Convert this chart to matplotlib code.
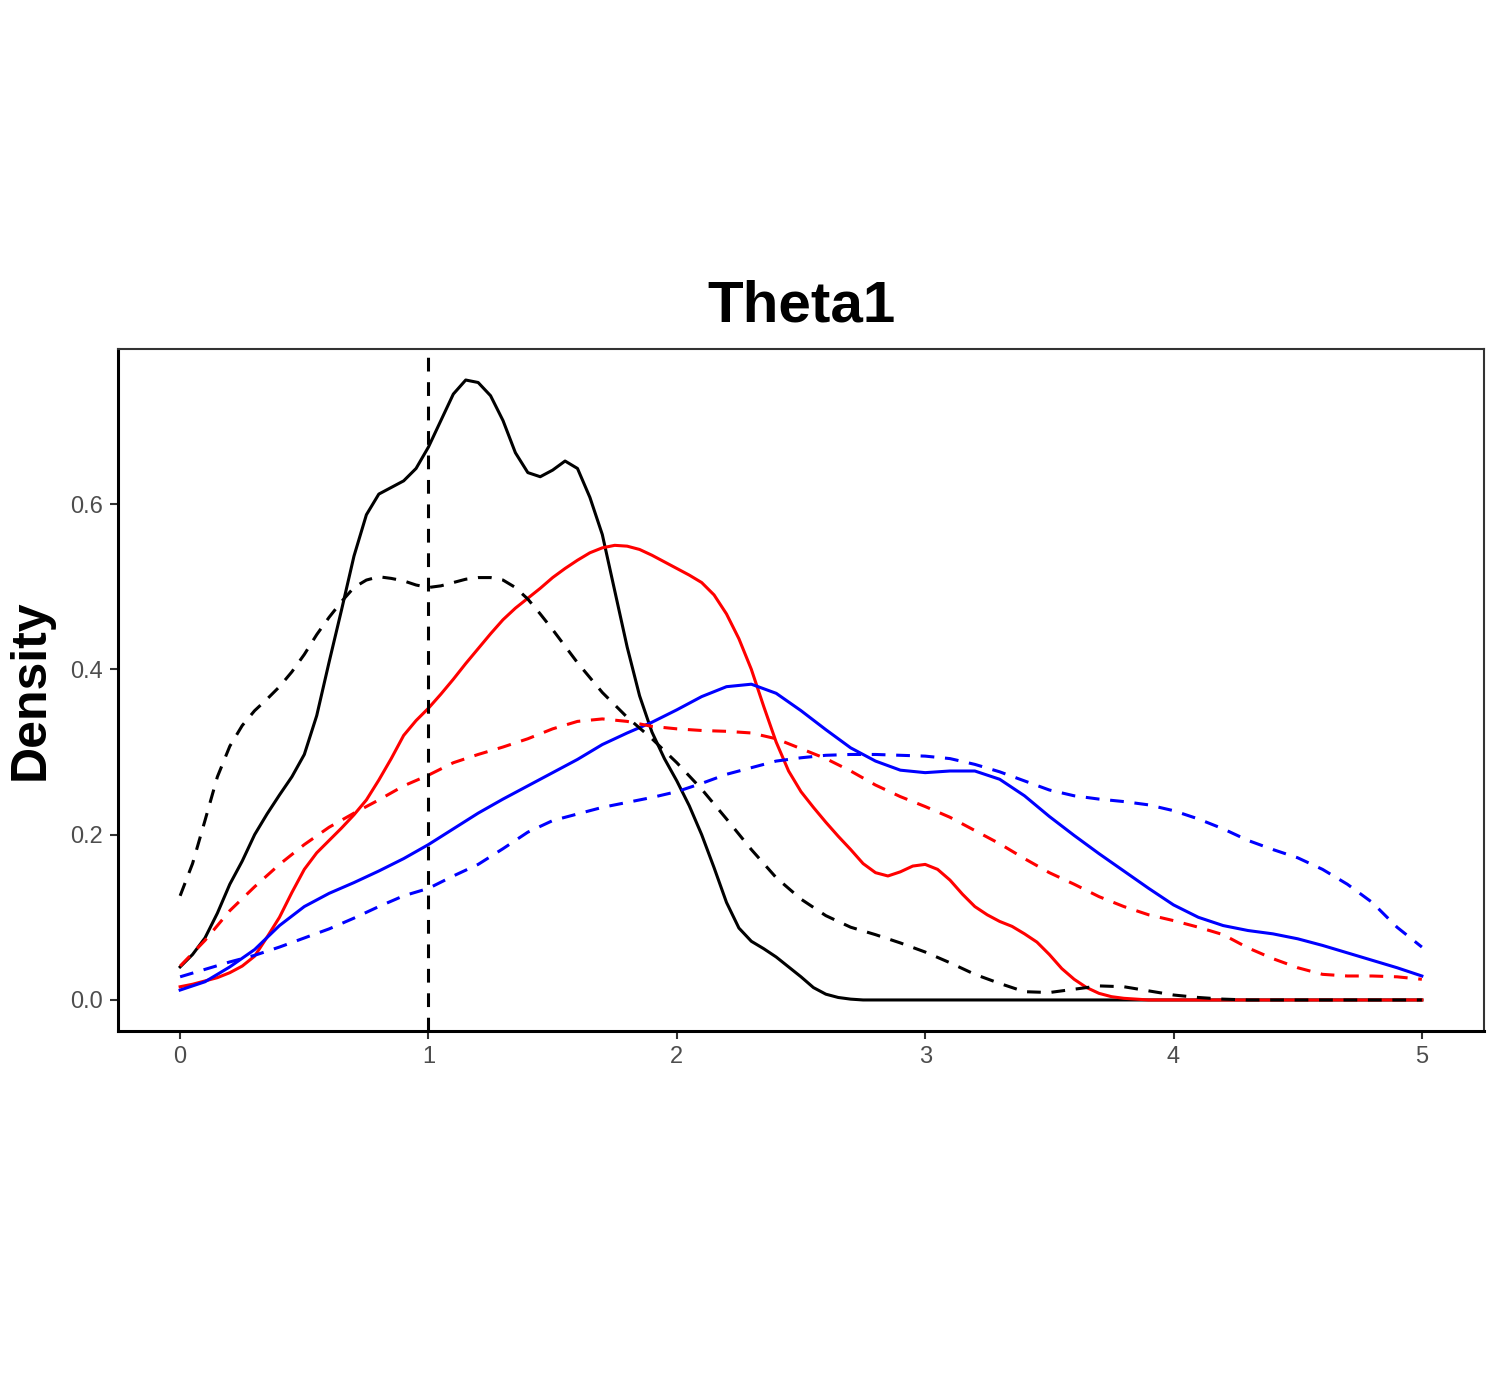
import matplotlib
matplotlib.use("Agg")
import matplotlib.pyplot as plt
import numpy as np

plt.rcParams['font.family'] = ['Liberation Sans', 'DejaVu Sans']

# x grids
x_coarse = np.round(np.arange(0, 5.0001, 0.1), 2)          # 0.1 step
x_fine = np.round(np.arange(0, 5.0001, 0.05), 2)           # 0.05 step
x_bd = np.concatenate([np.round(np.arange(0, 1.4999, 0.05), 2),
                       np.round(np.arange(1.5, 5.0001, 0.1), 2)])

black_solid = [0.040, 0.055, 0.075, 0.105, 0.140, 0.168, 0.200, 0.225, 0.248, 0.270,
               0.297, 0.344, 0.409, 0.472, 0.537, 0.587, 0.612, 0.620, 0.628, 0.643,
               0.669, 0.701, 0.733, 0.750, 0.747, 0.731, 0.701, 0.662, 0.638, 0.633,
               0.641, 0.652, 0.643, 0.608, 0.563, 0.495, 0.427, 0.368, 0.324, 0.292,
               0.265, 0.235, 0.200, 0.160, 0.118, 0.087, 0.071, 0.062, 0.052, 0.040,
               0.028, 0.015, 0.007, 0.003, 0.001] + [0.0] * 46
red_solid = [0.016, 0.019, 0.023, 0.027, 0.033, 0.041, 0.053, 0.076, 0.100, 0.130,
             0.158, 0.178, 0.193, 0.208, 0.224, 0.242, 0.266, 0.292, 0.320, 0.338,
             0.353, 0.370, 0.388, 0.407, 0.425, 0.443, 0.460, 0.474, 0.486, 0.498,
             0.511, 0.522, 0.532, 0.541, 0.547, 0.550, 0.549, 0.545, 0.538, 0.530,
             0.522, 0.514, 0.505, 0.490, 0.467, 0.437, 0.400, 0.355, 0.312, 0.277,
             0.252, 0.233, 0.215, 0.198, 0.182, 0.165, 0.154, 0.150, 0.155, 0.162,
             0.164, 0.158, 0.145, 0.128, 0.113, 0.103, 0.095, 0.089, 0.080, 0.070,
             0.055, 0.038, 0.025, 0.015, 0.008, 0.004, 0.002, 0.001] + [0.0] * 23
black_dashed = [0.126, 0.165, 0.217, 0.270, 0.307, 0.332, 0.350, 0.364, 0.379, 0.397,
                0.418, 0.442, 0.463, 0.482, 0.499, 0.508, 0.512, 0.510, 0.507, 0.502,
                0.499, 0.501, 0.505, 0.509, 0.511, 0.511, 0.508, 0.499, 0.485, 0.467,
                0.448, 0.408, 0.372, 0.342, 0.316,
                0.287, 0.255, 0.219, 0.182, 0.148, 0.122, 0.102, 0.088, 0.079, 0.069,
                0.058, 0.045, 0.031, 0.020, 0.010, 0.009, 0.013, 0.017, 0.016, 0.011,
                0.006, 0.003, 0.001, 0.0, 0.0, 0.0, 0.0, 0.0, 0.0, 0.0, 0.0]
red_dashed = [0.041, 0.072, 0.108, 0.137, 0.164, 0.188, 0.209, 0.226, 0.242, 0.259,
              0.272, 0.287, 0.297, 0.306, 0.316, 0.328, 0.337, 0.340, 0.337, 0.331,
              0.328, 0.326, 0.325, 0.323, 0.316, 0.304, 0.292, 0.277, 0.260, 0.246,
              0.234, 0.221, 0.205, 0.189, 0.171, 0.154, 0.140, 0.125, 0.113, 0.103,
              0.096, 0.088, 0.079, 0.063, 0.050, 0.039, 0.031, 0.029, 0.029, 0.028, 0.025]
blue_solid = [0.012, 0.022, 0.040, 0.061, 0.090, 0.113, 0.129, 0.142, 0.156, 0.171,
              0.188, 0.207, 0.226, 0.243, 0.259, 0.275, 0.291, 0.309, 0.323, 0.336,
              0.351, 0.367, 0.379, 0.382, 0.371, 0.350, 0.327, 0.305, 0.289, 0.278,
              0.275, 0.277, 0.277, 0.267, 0.247, 0.222, 0.199, 0.177, 0.156, 0.135,
              0.115, 0.100, 0.090, 0.084, 0.080, 0.074, 0.066, 0.057, 0.048, 0.039, 0.029]
blue_dashed = [0.028, 0.037, 0.046, 0.054, 0.064, 0.075, 0.086, 0.099, 0.113, 0.126,
               0.135, 0.150, 0.164, 0.183, 0.203, 0.217, 0.225, 0.233, 0.239, 0.245,
               0.252, 0.262, 0.273, 0.281, 0.289, 0.293, 0.296, 0.297, 0.297, 0.296,
               0.295, 0.292, 0.285, 0.276, 0.265, 0.254, 0.247, 0.243, 0.240, 0.236,
               0.229, 0.219, 0.207, 0.193, 0.182, 0.172, 0.158, 0.140, 0.118, 0.088, 0.064]

true_value = 1.0
x_ticks = [0, 1, 2, 3, 4, 5]
y_ticks = [0.0, 0.2, 0.4, 0.6]

fig = plt.figure(figsize=(15, 14), dpi=100)
ax = fig.add_axes([0.0787, 0.2636, 0.9106, 0.4871])

lw = 2.2
dash = (4.5, 3.5)
kw = dict(lw=lw, solid_joinstyle='round', dash_joinstyle='round')
ax.plot(x_fine, black_solid, color='black', **kw)
ax.plot(x_fine, red_solid, color='#FF0000', **kw)
ax.plot(x_coarse, blue_solid, color='#0000FF', **kw)
ax.plot(x_bd, black_dashed, color='black', linestyle=(0, dash), **kw)
ax.plot(x_coarse, red_dashed, color='#FF0000', linestyle=(0, dash), **kw)
ax.plot(x_coarse, blue_dashed, color='#0000FF', linestyle=(0, dash), **kw)
ax.axvline(true_value, color='black', lw=lw, linestyle=(0, dash))

ax.set_xlim(-0.25, 5.25)
ax.set_ylim(-0.0375, 0.7875)
ax.set_xticks(x_ticks)
ax.set_xticklabels([str(t) for t in x_ticks])
ax.set_yticks(y_ticks)
ax.set_yticklabels([f"{t:.1f}" for t in y_ticks])
ax.tick_params(axis='both', labelsize=17, labelcolor='#4D4D4D', color='#333333',
               length=6, width=1.5, pad=5)

for s in ['top', 'right']:
    ax.spines[s].set_color('#333333')
    ax.spines[s].set_linewidth(1.5)
for s in ['left', 'bottom']:
    ax.spines[s].set_color('black')
    ax.spines[s].set_linewidth(2.2)

ax.set_ylabel('Density', fontsize=36, fontweight='bold', labelpad=12)
ax.set_title('Theta1', fontsize=42, fontweight='bold', pad=20)

fig.savefig('out.png', dpi=100)
